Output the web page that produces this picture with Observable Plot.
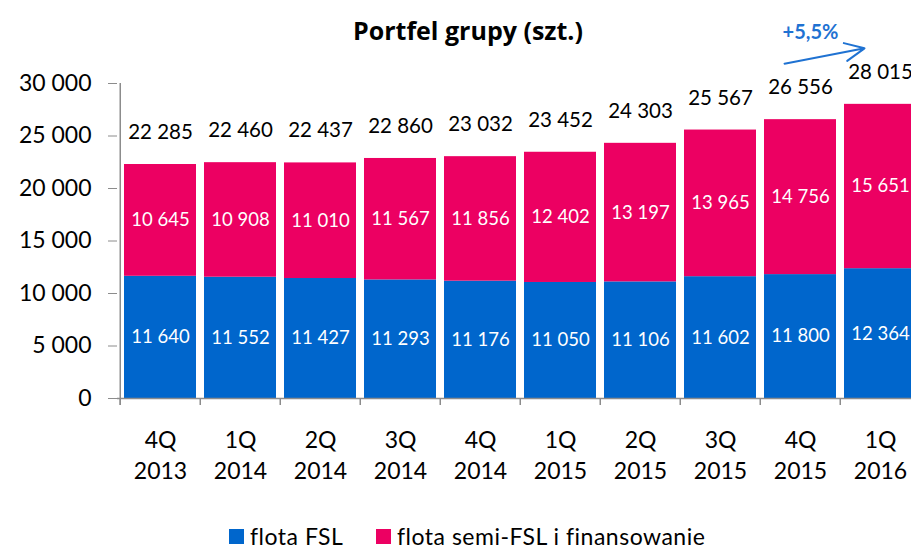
<!DOCTYPE html>
<html><head><meta charset="utf-8">
<script src="https://cdn.jsdelivr.net/npm/d3@7"></script>
<script src="https://cdn.jsdelivr.net/npm/@observablehq/plot@0.6"></script>
<style>
body{margin:0;width:911px;height:551px;overflow:hidden;position:relative;background:#fff;font-family:Lato,"Open Sans",sans-serif;color:#000}
#title{position:absolute;left:218px;width:500px;top:12px;text-align:center;font-family:"Open Sans",Lato,sans-serif;font-weight:bold;font-size:25px;line-height:36px}
#chart{position:absolute;left:0;top:0;width:922px;height:480px}
#chart svg{max-width:none !important;display:block}
#legend{position:absolute;top:526px;left:0;font-size:23px;line-height:20px;white-space:nowrap;letter-spacing:0.5px}
#legend .item{position:absolute;top:0;display:flex;align-items:center}
#legend .sw{display:inline-block;width:15px;height:15px;margin-right:6px}
</style></head>
<body>
<div id="title">Portfel grupy (szt.)</div>
<div id="chart"></div>
<div id="legend"></div>
<script>
const categories = ["4Q\n2013","1Q\n2014","2Q\n2014","3Q\n2014","4Q\n2014","1Q\n2015","2Q\n2015","3Q\n2015","4Q\n2015","1Q\n2016"];
const seriesNames = ["flota FSL","flota semi-FSL i finansowanie"];
const flotaFSL = [11640,11552,11427,11293,11176,11050,11106,11602,11800,12364];
const flotaSemi = [10645,10908,11010,11567,11856,12402,13197,13965,14756,15651];
const totals = [22285,22460,22437,22860,23032,23452,24303,25567,26556,28015];
const yTicks = [0,5000,10000,15000,20000,25000,30000];
const growthLabel = "+5,5%";
const colors = ["#0066CC","#EC0062"];
const annotColor = "#1F72D2";

const fmt = d3.formatLocale({decimal:",",thousands:" ",grouping:[3],currency:["",""]}).format(",d");

const rows = [];
categories.forEach((c,i)=>{
  rows.push({cat:c, series:seriesNames[0], value:flotaFSL[i]});
  rows.push({cat:c, series:seriesNames[1], value:flotaSemi[i]});
});
const totalRows = categories.map((c,i)=>({cat:c, total:totals[i]}));
const growth = [{from:categories[8], to:categories[9], y1:totals[8], y2:totals[9], label:growthLabel}];

const W = 922, H = 480, mL = 117, mR = 0, mT = 83, mB = 82;
const step = (W - mL - mR) / categories.length;

const chart = Plot.plot({
  width: W, height: H,
  marginTop: mT, marginBottom: mB, marginLeft: mL, marginRight: mR,
  style: {fontFamily: "Lato, 'Open Sans', sans-serif", background: "transparent", overflow: "visible", color: "#000", maxWidth: "none"},
  x: {domain: categories, padding: 0, axis: null},
  y: {domain: [0, 30000], axis: null},
  color: {domain: seriesNames, range: colors},
  marks: [
    Plot.barY(rows, {x: "cat", y: "value", fill: "series", insetLeft: 4, insetRight: 4}),
    Plot.text(rows, Plot.stackY({x: "cat", y: "value", z: "series", text: d => fmt(d.value), fill: "white", fontSize: 18.5})),
    Plot.text(totalRows, {x: "cat", y: "total", text: d => fmt(d.total), dy: -32, fontSize: 20.5, fill: "black"}),
    Plot.ruleY([0], {stroke: "#8c8c8c", strokeWidth: 1.5}),
    Plot.ruleX([categories[0]], {dx: -step/2, insetBottom: -7, stroke: "#8c8c8c", strokeWidth: 1.5}),
    Plot.ruleX(categories, {dx: -step/2, insetTop: H - mT - mB, insetBottom: -7, stroke: "#8c8c8c", strokeWidth: 1.5}),
    Plot.axisY({ticks: yTicks, tickFormat: fmt, tickSize: 9, tickPadding: 17, fontSize: 23, stroke: "#8c8c8c", fill: "black", label: null}),
    Plot.text(categories, {x: d => d, text: d => d, frameAnchor: "bottom", lineAnchor: "top", dy: 27, fontSize: 23, lineHeight: 31/23, fill: "black"}),
    Plot.arrow(growth, {x1: "from", y1: "y1", x2: "to", y2: "y2", dx: -16, dy: -56, stroke: annotColor, strokeWidth: 2, headLength: 16, headAngle: 50, bend: 0}),
    Plot.text(growth, {x: "from", y: "y1", text: "label", dx: 10, dy: -87, fontSize: 20, fontWeight: "bold", fill: annotColor})
  ]
});
document.getElementById("chart").appendChild(chart);

const legend = document.getElementById("legend");
const legendLeft = [229, 376];
seriesNames.forEach((s,i)=>{
  const item = document.createElement("span");
  item.className = "item";
  item.style.left = legendLeft[i] + "px";
  const sw = document.createElement("span");
  sw.className = "sw"; sw.style.background = colors[i];
  item.appendChild(sw);
  item.appendChild(document.createTextNode(s));
  legend.appendChild(item);
});
</script>
</body></html>
